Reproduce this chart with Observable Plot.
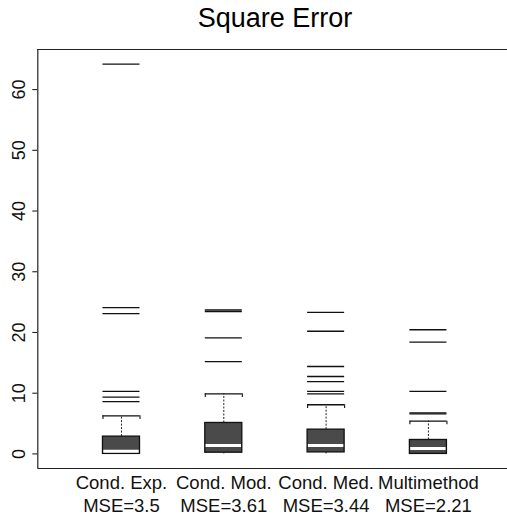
<!DOCTYPE html>
<html>
<head>
<meta charset="utf-8">
<script src="https://cdn.jsdelivr.net/npm/d3@7"></script>
<script src="https://cdn.jsdelivr.net/npm/@observablehq/plot@0.6"></script>
<style>
  html, body { margin: 0; padding: 0; background: #fff; overflow: hidden; }
</style>
</head>
<body>
<div id="chart"></div>
<script>
const title = "Square Error";
const categories = ["Cond. Exp.", "Cond. Mod.", "Cond. Med.", "Multimethod"];
const mseLabels = ["MSE=3.5", "MSE=3.61", "MSE=3.44", "MSE=2.21"];
const q1 = [0, 0.2, 0.25, 0];
const medians = [0.45, 1.37, 1.37, 0.9];
const q3 = [2.85, 5.1, 4.0, 2.3];
const whiskerLo = [0, 0, 0, 0];
const whiskerHi = [6.27, 9.9, 8.1, 5.4];
const outliers = [
  [64.2, 24.1, 23.1, 10.3, 9.35, 8.6],
  [23.7, 23.45, 19.1, 15.2],
  [23.3, 20.2, 14.4, 12.75, 11.9, 10.3, 9.9],
  [20.45, 18.4, 10.3, 6.75, 6.6]
];
const yTicks = [0, 10, 20, 30, 40, 50, 60];

const font = "'Liberation Sans', Arial, Helvetica, sans-serif";
const xLo = 0.182, xHi = 4.773;
const yLo = -2.4, yHi = 66.6;
const hw = 0.181;      // half box width (x units)
const capDrop = 0.6;   // staple end drop (y units)

const groups = categories.map((c, i) => ({
  x: i + 1, label: c + "\n" + mseLabels[i],
  q1: q1[i], med: medians[i], q3: q3[i], lo: whiskerLo[i], hi: whiskerHi[i]
}));
const outlierRows = outliers.flatMap((vals, i) => vals.map(v => ({x: i + 1, v})));
const center = d3.mean(groups, d => d.x);

const chart = Plot.plot({
  width: 507,
  height: 515,
  marginLeft: 37.3,
  marginRight: 0,
  marginTop: 49,
  marginBottom: 47,
  style: {fontFamily: font, background: "#fff", color: "#000"},
  x: {type: "linear", domain: [xLo, xHi], axis: null},
  y: {domain: [yLo, yHi]},
  marks: [
    // frame lines (top, bottom, left)
    Plot.ruleY([yLo, yHi], {stroke: "#222", strokeWidth: 1.2}),
    Plot.ruleX([xLo], {stroke: "#222", strokeWidth: 1.2}),
    // y axis ticks
    Plot.axisY(yTicks, {anchor: "left", tickSize: 5, tickFormat: () => "", stroke: "#222", strokeWidth: 1.1}),
    Plot.text(yTicks, {y: d => d, frameAnchor: "left", dx: -19, rotate: -90,
      textAnchor: "middle", lineAnchor: "middle", fontSize: 18, fill: "#111"}),
    // whiskers
    Plot.ruleX(groups, {x: "x", y1: "q3", y2: "hi", stroke: "#222", strokeWidth: 1, strokeDasharray: "2,1.5"}),
    Plot.ruleX(groups, {x: "x", y1: "q1", y2: "lo", stroke: "#222", strokeWidth: 1, strokeDasharray: "2,1.5"}),
    // staples
    Plot.ruleY(groups, {y: "hi", x1: d => d.x - hw, x2: d => d.x + hw, stroke: "#111", strokeWidth: 1.3}),
    Plot.ruleX(groups, {x: d => d.x - hw, y1: "hi", y2: d => d.hi - capDrop, stroke: "#111", strokeWidth: 1.1}),
    Plot.ruleX(groups, {x: d => d.x + hw, y1: "hi", y2: d => d.hi - capDrop, stroke: "#111", strokeWidth: 1.1}),
    // boxes
    Plot.rect(groups, {x1: d => d.x - hw, x2: d => d.x + hw, y1: "q1", y2: "q3",
      fill: "#4a4a4a", stroke: "#111", strokeWidth: 1.3}),
    // medians
    Plot.ruleY(groups, {y: "med", x1: d => d.x - hw + 0.008, x2: d => d.x + hw - 0.008, stroke: "#fff", strokeWidth: 3}),
    // outliers
    Plot.ruleY(outlierRows, {y: "v", x1: d => d.x - hw, x2: d => d.x + hw, stroke: "#111", strokeWidth: 1.3}),
    // category labels
    Plot.text(groups, {x: "x", text: "label", frameAnchor: "bottom", lineAnchor: "top", dy: 4,
      fontSize: 18.5, lineHeight: 1.24, fill: "#111"}),
    // title
    Plot.text([title], {x: () => center, text: d => d, frameAnchor: "top", lineAnchor: "bottom", dy: -22.3,
      fontSize: 27, fill: "#000"})
  ]
});
document.getElementById("chart").appendChild(chart);
</script>
</body>
</html>
